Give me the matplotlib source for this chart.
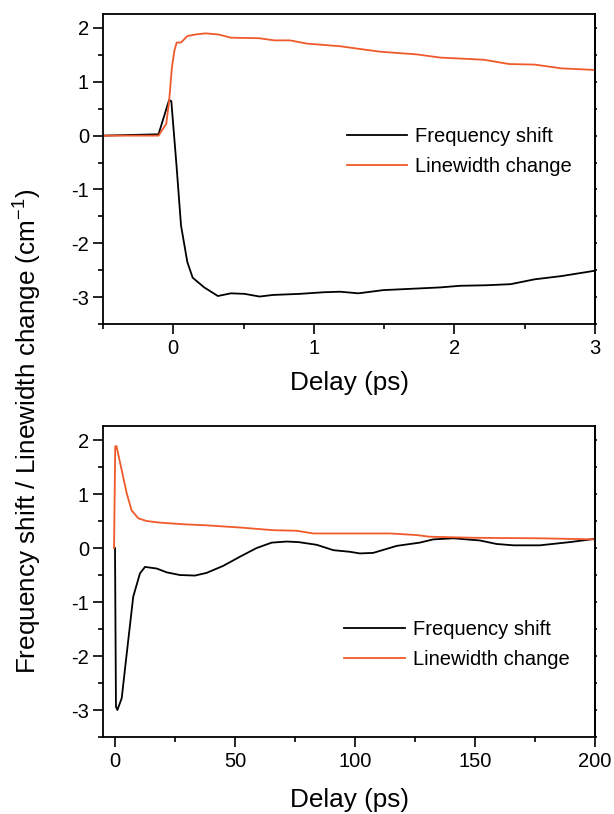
import numpy as np
import matplotlib.pyplot as plt

plt.rcParams['font.family'] = ['Liberation Sans', 'DejaVu Sans']
plt.rcParams['mathtext.fontset'] = 'custom'
plt.rcParams['mathtext.rm'] = 'Liberation Sans'
plt.rcParams['mathtext.it'] = 'Liberation Sans'
plt.rcParams['axes.unicode_minus'] = False

RED = '#F05A2A'

# top panel: short delays (ps)
fs_short_x = [-0.5, -0.105, -0.03, -0.014, 0.024, 0.055, 0.10, 0.138, 0.22, 0.317,
              0.41, 0.507, 0.614, 0.71, 0.9, 1.07, 1.186, 1.317, 1.495, 1.66,
              1.9, 2.04, 2.23, 2.4, 2.57, 2.76, 3.0]
fs_short_y = [0.0, 0.025, 0.66, 0.64, -0.59, -1.67, -2.35, -2.64, -2.82, -2.98,
              -2.93, -2.94, -2.99, -2.96, -2.94, -2.91, -2.90, -2.93, -2.87, -2.85,
              -2.82, -2.79, -2.78, -2.76, -2.67, -2.61, -2.51]
lw_short_x = [-0.5, -0.105, -0.05, -0.03, -0.01, 0.007, 0.024, 0.055, 0.10, 0.16,
              0.23, 0.32, 0.41, 0.61, 0.72, 0.83, 0.95, 1.19, 1.30, 1.47,
              1.73, 1.9, 2.21, 2.39, 2.57, 2.76, 3.0]
lw_short_y = [0.0, 0.0, 0.22, 0.63, 1.26, 1.57, 1.73, 1.73, 1.85, 1.88,
              1.90, 1.88, 1.82, 1.81, 1.77, 1.77, 1.71, 1.66, 1.62, 1.56,
              1.51, 1.45, 1.41, 1.33, 1.32, 1.25, 1.22]

# bottom panel: long delays (ps)
fs_long_x = [0.0, 0.4, 1.0, 2.8, 4.9, 7.6, 10.4, 12.5, 17.4, 21.5,
             27, 33.3, 38.2, 45.1, 52.1, 59, 65.3, 71.5, 76.4, 84,
             91, 97.9, 102, 107.6, 117.4, 127, 132.6, 141, 152, 159,
             166, 177, 189.6, 200]
fs_long_y = [0.0, -2.94, -3.0, -2.78, -1.95, -0.90, -0.47, -0.35, -0.38, -0.45,
             -0.50, -0.51, -0.46, -0.33, -0.16, 0.0, 0.10, 0.12, 0.11, 0.06,
             -0.04, -0.07, -0.10, -0.09, 0.04, 0.10, 0.16, 0.18, 0.14, 0.075,
             0.05, 0.05, 0.11, 0.17]
lw_long_x = [-0.4, 0.1, 0.6, 2.8, 4.9, 6.9, 9.7, 13.2, 18.75, 28.5,
             38.2, 52, 66, 75.7, 82.6, 98, 114.6, 125.7, 131, 149,
             177, 200]
lw_long_y = [0.0, 1.88, 1.89, 1.44, 1.01, 0.70, 0.55, 0.50, 0.47, 0.44,
             0.42, 0.38, 0.33, 0.32, 0.27, 0.27, 0.27, 0.24, 0.21, 0.19,
             0.18, 0.16]

yticks = [-3, -2, -1, 0, 1, 2]
yminor = np.arange(-3.5, 2.3, 0.5)

fig = plt.figure(figsize=(6.14, 8.14), dpi=100)
W, H = 614, 814
ax1 = fig.add_axes([103 / W, (H - 324) / H, 492 / W, 310 / H])
ax2 = fig.add_axes([103 / W, (H - 737) / H, 492 / W, 311 / H])


def style_axis(ax):
    for sp in ax.spines.values():
        sp.set_linewidth(1.3)
    ax.tick_params(which='both', width=1.2, labelsize=14.5)
    ax.tick_params(axis='y', which='major', direction='out', length=7, pad=3)
    ax.tick_params(axis='y', which='minor', direction='out', length=3.6)
    ax.set_ylim(-3.5, 2.26)
    ax.set_yticks(yticks)
    ax.set_yticks(yminor, minor=True)
    ax.tick_params(axis='x', which='major', direction='out', length=7, pad=4,
                   bottom=True, top=False)
    ax.tick_params(axis='x', which='minor', direction='out', length=3.6,
                   bottom=True, top=False)
    # small stubs on the right side
    sec = ax.secondary_yaxis('right')
    sec.set_yticks(yticks)
    sec.set_yticks(yminor, minor=True)
    sec.tick_params(which='both', direction='out', length=1.5, width=1.2,
                    labelright=False)
    sec.spines['right'].set_linewidth(1.3)


# top panel
ax1.plot(fs_short_x, fs_short_y, color='black', lw=1.3, label='Frequency shift')
ax1.plot(lw_short_x, lw_short_y, color=RED, lw=1.3, label='Linewidth change')
style_axis(ax1)
ax1.set_xlim(-0.5, 3.0)
ax1.set_xticks([0, 1, 2, 3])
ax1.set_xticks(np.arange(-0.5, 3.01, 0.5), minor=True)
ax1.set_xlabel('Delay (ps)', fontsize=18.8, labelpad=9)
ax1.legend(loc='center left', bbox_to_anchor=(0.475, 0.556), frameon=False, fontsize=14.5,
           handlelength=3.0, handletextpad=0.4, labelspacing=0.55, borderpad=0)

# bottom panel
ax2.plot(fs_long_x, fs_long_y, color='black', lw=1.3, label='Frequency shift')
ax2.plot(lw_long_x, lw_long_y, color=RED, lw=1.3, label='Linewidth change')
style_axis(ax2)
ax2.set_xlim(-5, 200)
ax2.set_xticks([0, 50, 100, 150, 200])
ax2.set_xticks(np.arange(0, 201, 25), minor=True)
ax2.set_xlabel('Delay (ps)', fontsize=18.8, labelpad=12)
ax2.legend(loc='center left', bbox_to_anchor=(0.47, 0.297), frameon=False, fontsize=14.5,
           handlelength=3.0, handletextpad=0.4, labelspacing=0.55, borderpad=0)

fig.text(0.046, 0.4705, 'Frequency shift / Linewidth change (cm$^{-1}$)',
         rotation=90, ha='center', va='center', fontsize=18.8)

fig.savefig('out.png', dpi=100)
